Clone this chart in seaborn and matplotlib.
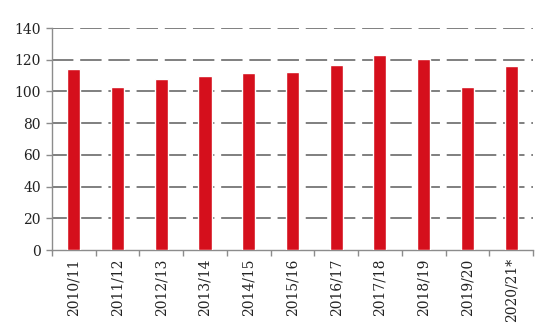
import matplotlib
matplotlib.use("Agg")
import matplotlib.pyplot as plt
import seaborn as sns
import pandas as pd
from matplotlib.ticker import FixedLocator

seasons = ["2010/11", "2011/12", "2012/13", "2013/14", "2014/15", "2015/16",
           "2016/17", "2017/18", "2018/19", "2019/20", "2020/21*"]
values = [114.1, 103.0, 107.6, 109.9, 111.4, 112.4, 116.5, 123.0, 120.2, 102.6, 116.0]
y_ticks = [0, 20, 40, 60, 80, 100, 120, 140]

df = pd.DataFrame({"season": seasons, "value": values})

sns.set_theme(style="white")
plt.rcParams["font.family"] = ["DejaVu Serif"]

fig = plt.figure(figsize=(5.5, 3.3), dpi=100)
ax = fig.add_axes([0.0945, 0.2424, 0.8745, 0.6726])

sns.barplot(data=df, x="season", y="value", color="#d50f1c", width=0.3,
            saturation=1, ax=ax, zorder=3)

ax.set_ylim(0, 140)
ax.set_xlim(-0.5, len(seasons) - 0.5)
ax.set_yticks(y_ticks)
ax.set_xlabel("")
ax.set_ylabel("")

for y in y_ticks[1:]:
    ax.axhline(y, color="#7f7f7f", linewidth=1.4, linestyle=(0, (11, 3.5)), zorder=1)

for s in ["top", "right"]:
    ax.spines[s].set_visible(False)
for s in ["left", "bottom"]:
    ax.spines[s].set_color("#8c8c8c")
    ax.spines[s].set_linewidth(1.0)

ax.tick_params(axis="y", labelsize=10, colors="#8c8c8c", labelcolor="#222222",
               length=4, width=1, direction="out", left=True, pad=4)
ax.tick_params(axis="x", labelsize=10, labelcolor="#222222", length=0,
               rotation=90, pad=6)
ax.xaxis.set_minor_locator(FixedLocator([i - 0.5 for i in range(len(seasons) + 1)]))
ax.tick_params(axis="x", which="minor", bottom=True, length=4, width=1,
               color="#8c8c8c", direction="out")

fig.savefig("out.png", dpi=100)
